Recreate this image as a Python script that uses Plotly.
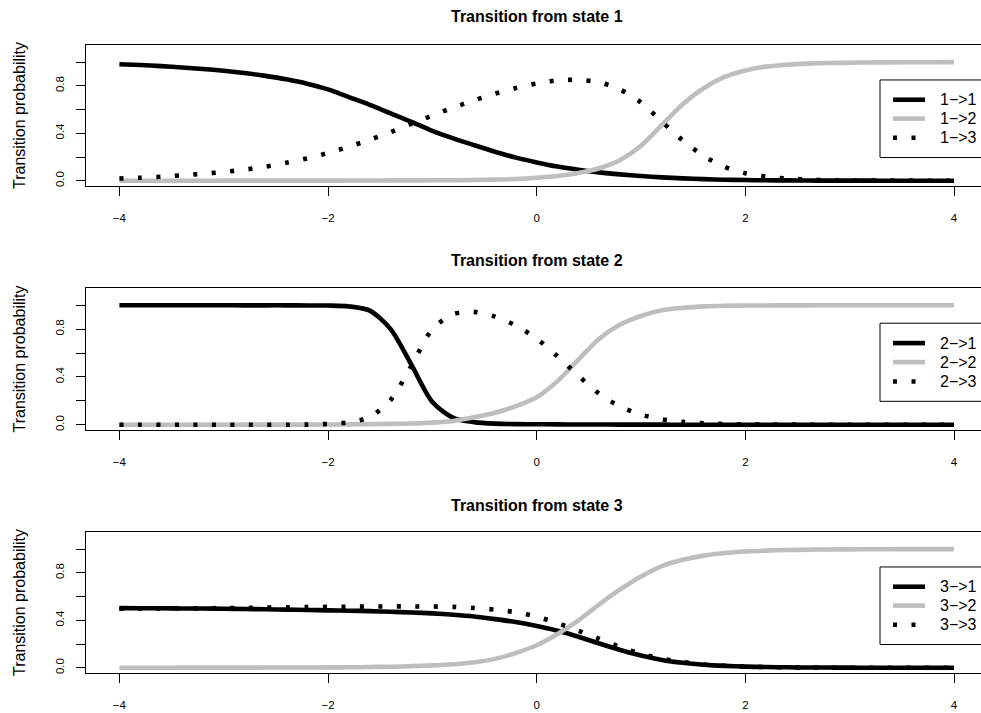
import plotly.graph_objects as go

# ---------------- data ----------------
x_grid = [-4.0, -3.8, -3.6, -3.4, -3.2, -3.0, -2.8, -2.6, -2.4, -2.2,
          -2.0, -1.8, -1.6, -1.4, -1.2, -1.0, -0.8, -0.6, -0.4, -0.2,
          0.0, 0.2, 0.4, 0.6, 0.8, 1.0, 1.2, 1.4, 1.6, 1.8,
          2.0, 2.2, 2.4, 2.6, 2.8, 3.0, 3.2, 3.4, 3.6, 3.8, 4.0]

# Transition from state 1
p11 = [0.982, 0.975, 0.966, 0.955, 0.942, 0.927, 0.908, 0.884, 0.855, 0.818,
       0.770, 0.705, 0.640, 0.568, 0.497, 0.420, 0.357, 0.300, 0.245, 0.195,
       0.155, 0.120, 0.093, 0.071, 0.054, 0.040, 0.029, 0.020, 0.014, 0.009,
       0.006, 0.004, 0.003, 0.002, 0.001, 0.001, 0.001, 0.000, 0.000, 0.000, 0.000]
p12 = [0.000, 0.000, 0.000, 0.000, 0.000, 0.001, 0.001, 0.001, 0.001, 0.001,
       0.001, 0.002, 0.002, 0.003, 0.003, 0.004, 0.005, 0.007, 0.010, 0.015,
       0.025, 0.040, 0.065, 0.105, 0.175, 0.295, 0.470, 0.645, 0.780, 0.875,
       0.930, 0.962, 0.978, 0.987, 0.992, 0.995, 0.997, 0.998, 0.999, 0.999, 1.000]
p13 = [0.019, 0.025, 0.034, 0.046, 0.060, 0.074, 0.094, 0.119, 0.151, 0.189,
       0.234, 0.287, 0.346, 0.410, 0.482, 0.549, 0.617, 0.678, 0.734, 0.781,
       0.819, 0.846, 0.850, 0.830, 0.768, 0.660, 0.498, 0.340, 0.210, 0.118,
       0.064, 0.035, 0.019, 0.010, 0.005, 0.003, 0.002, 0.001, 0.001, 0.000, 0.000]

# Transition from state 2
p21 = [1.000, 1.000, 1.000, 1.000, 1.000, 1.000, 0.999, 0.999, 0.999, 0.998,
       0.997, 0.990, 0.955, 0.800, 0.500, 0.190, 0.058, 0.022, 0.009, 0.005,
       0.004, 0.003, 0.002, 0.002, 0.001, 0.001, 0.001, 0.000, 0.000, 0.000,
       0.000, 0.000, 0.000, 0.000, 0.000, 0.000, 0.000, 0.000, 0.000, 0.000, 0.000]
p22 = [0.000, 0.000, 0.000, 0.000, 0.000, 0.000, 0.001, 0.001, 0.001, 0.001,
       0.002, 0.003, 0.005, 0.007, 0.011, 0.018, 0.032, 0.062, 0.100, 0.155,
       0.230, 0.365, 0.545, 0.720, 0.838, 0.910, 0.958, 0.978, 0.990, 0.995,
       0.997, 0.998, 0.999, 0.999, 1.000, 1.000, 1.000, 1.000, 1.000, 1.000, 1.000]
p23 = [0.000, 0.000, 0.000, 0.000, 0.000, 0.000, 0.000, 0.000, 0.000, 0.001,
       0.007, 0.021, 0.065, 0.207, 0.495, 0.800, 0.925, 0.944, 0.905, 0.830,
       0.720, 0.572, 0.410, 0.258, 0.152, 0.085, 0.045, 0.024, 0.012, 0.006,
       0.003, 0.001, 0.001, 0.000, 0.000, 0.000, 0.000, 0.000, 0.000, 0.000, 0.000]

# Transition from state 3
p31 = [0.503, 0.502, 0.501, 0.500, 0.499, 0.497, 0.495, 0.493, 0.490, 0.487,
       0.484, 0.481, 0.477, 0.472, 0.466, 0.458, 0.447, 0.432, 0.410, 0.385,
       0.352, 0.312, 0.262, 0.205, 0.150, 0.103, 0.066, 0.042, 0.026, 0.016,
       0.010, 0.006, 0.004, 0.002, 0.002, 0.001, 0.000, 0.000, 0.000, 0.000, 0.000]
p32 = [0.000, 0.000, 0.000, 0.001, 0.001, 0.001, 0.001, 0.002, 0.002, 0.002,
       0.003, 0.004, 0.006, 0.009, 0.014, 0.020, 0.030, 0.046, 0.075, 0.125,
       0.190, 0.285, 0.400, 0.535, 0.660, 0.770, 0.857, 0.910, 0.945, 0.967,
       0.980, 0.987, 0.992, 0.995, 0.997, 0.998, 0.999, 0.999, 1.000, 1.000, 1.000]
p33 = [0.497, 0.498, 0.499, 0.500, 0.501, 0.503, 0.505, 0.507, 0.509, 0.511,
       0.513, 0.515, 0.516, 0.517, 0.517, 0.516, 0.513, 0.504, 0.490, 0.468,
       0.430, 0.376, 0.312, 0.244, 0.175, 0.118, 0.076, 0.048, 0.028, 0.017,
       0.010, 0.006, 0.004, 0.002, 0.001, 0.000, 0.000, 0.000, 0.000, 0.000, 0.000]

panel_titles = ["Transition from state 1", "Transition from state 2", "Transition from state 3"]
panel_series = [[p11, p12, p13], [p21, p22, p23], [p31, p32, p33]]
legend_labels = [["1\u2212>1", "1\u2212>2", "1\u2212>3"],
                 ["2\u2212>1", "2\u2212>2", "2\u2212>3"],
                 ["3\u2212>1", "3\u2212>2", "3\u2212>3"]]
y_label = "Transition probability"
x_ticks = [-4, -2, 0, 2, 4]
y_ticks = [0.0, 0.2, 0.4, 0.6, 0.8, 1.0]
y_ticktext = ["0.0", "", "0.4", "", "0.8", ""]

# ---------------- styling ----------------
W, H = 981, 713
FONT = "Liberation Sans, Arial, Helvetica, sans-serif"
BLACK = "#000000"
GREY = "#BEBEBE"
LW = 4.6
DOT_DASH = "4px,14.5px"
styles = [dict(color=BLACK, width=LW, dash="solid"),
          dict(color=GREY, width=LW, dash="solid"),
          dict(color=BLACK, width=LW, dash=DOT_DASH)]

ML = 86
plot_w = W - ML
# panel boxes (top, bottom) in px from top
panels_px = [(45, 186), (288, 430), (532, 673)]
title_y_px = [16.5, 260, 505]

fig = go.Figure()
shapes = []
annotations = []

for i in range(3):
    sfx = "" if i == 0 else str(i + 1)
    xa, ya = "x" + sfx, "y" + sfx
    for s in range(3):
        fig.add_trace(go.Scatter(
            x=x_grid, y=panel_series[i][s], mode="lines",
            line=dict(color=styles[s]["color"], width=styles[s]["width"],
                      dash=styles[s]["dash"], shape="spline", smoothing=0.8),
            xaxis=xa, yaxis=ya, showlegend=False, hoverinfo="skip"))
    top, bot = panels_px[i]
    dom = [1 - bot / H, 1 - top / H]
    fig.layout["xaxis" + sfx] = dict(
        domain=[0, 1], anchor=ya, range=[-4.32, 4.2584],
        tickmode="array", tickvals=x_ticks, ticks="outside", ticklen=9,
        tickwidth=1, tickcolor=BLACK, showline=True, linecolor=BLACK,
        linewidth=1, mirror=True, showgrid=False, zeroline=False,
        tickfont=dict(family=FONT, size=11.5, color=BLACK),
        ticklabelstandoff=12, automargin=False)
    fig.layout["yaxis" + sfx] = dict(
        domain=dom, anchor=xa, range=[-0.044, 1.144],
        tickmode="array", tickvals=y_ticks, ticktext=y_ticktext,
        tickangle=-90, ticks="outside", ticklen=9, tickwidth=1,
        tickcolor=BLACK, showline=True, linecolor=BLACK, linewidth=1,
        mirror=False, showgrid=False, zeroline=False,
        tickfont=dict(family=FONT, size=11.5, color=BLACK),
        ticklabelstandoff=7, automargin=False)

    # title
    annotations.append(dict(
        text="<b>" + panel_titles[i] + "</b>", xref="x" + sfx, x=0,
        yref="paper", y=1 - title_y_px[i] / H, xanchor="center",
        yanchor="middle", showarrow=False,
        font=dict(family=FONT, size=16, color=BLACK)))
    # y label
    annotations.append(dict(
        text=y_label, textangle=-90, xref="paper", x=(19.5 - ML) / plot_w,
        yref="paper", y=1 - (top + bot) / 2 / H, xanchor="center",
        yanchor="middle", showarrow=False,
        font=dict(family=FONT, size=16, color=BLACK)))

    # legend (drawn by hand, R style)
    xd, yd = xa + " domain", ya + " domain"
    shapes.append(dict(type="rect", xref=xd, yref=yd,
                       x0=(880 - ML) / plot_w, x1=1.05, y0=0.202, y1=0.752,
                       line=dict(color=BLACK, width=1), fillcolor="white", layer="above"))
    row_y = [0.612, 0.478, 0.342]
    for s in range(3):
        shapes.append(dict(type="line", xref=xd, yref=yd,
                           x0=(893 - ML) / plot_w, x1=(925 - ML) / plot_w,
                           y0=row_y[s], y1=row_y[s],
                           line=dict(color=styles[s]["color"], width=LW,
                                     dash=styles[s]["dash"]), layer="above"))
        annotations.append(dict(
            text=legend_labels[i][s], xref=xd, x=(938 - ML) / plot_w,
            yref=yd, y=row_y[s], xanchor="left", yanchor="middle",
            showarrow=False, font=dict(family=FONT, size=16, color=BLACK)))

fig.update_layout(
    width=W, height=H, margin=dict(l=ML, r=0, t=0, b=0, autoexpand=False),
    paper_bgcolor="white", plot_bgcolor="white",
    shapes=shapes, annotations=annotations, showlegend=False,
    font=dict(family=FONT, color=BLACK))

fig.write_html("out.html")
